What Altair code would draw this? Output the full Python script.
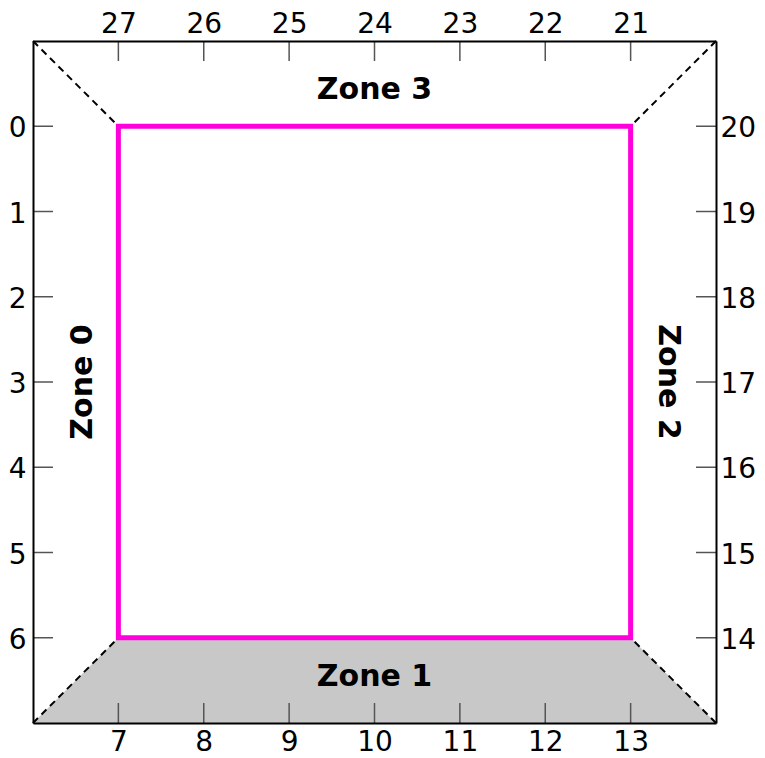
import altair as alt
import pandas as pd

# ---- data ----
bottom_ticks = [7, 8, 9, 10, 11, 12, 13]
left_ticks = [0, 1, 2, 3, 4, 5, 6]
top_ticks = [27, 26, 25, 24, 23, 22, 21]
right_ticks = [20, 19, 18, 17, 16, 15, 14]

x_domain = [6, 14]
y_domain = [-1, 7]
top_domain = [20, 28]
right_domain = [13, 21]

inner_x = [7, 13]
inner_y = [0, 6]

zone1_x = [6, 7, 13, 14]
zone1_top = [7, 6, 6, 7]
zone1_base = [7, 7, 7, 7]

dash_x = [6, 14, 6, 14]
dash_y = [-1, -1, 7, 7]
dash_x2 = [7, 13, 7, 13]
dash_y2 = [0, 0, 6, 6]

zone_labels = ["Zone 0", "Zone 1", "Zone 2", "Zone 3"]
zone_x = [6.58, 10.0, 13.44, 10.0]
zone_y = [3.0, 6.46, 3.0, -0.42]
zone_angle = [270, 0, 90, 0]

FONT = "DejaVu Sans"
MAGENTA = "#ff00dd"
GREY = "#c8c8c8"
TICK = "#555555"


def axis(orient, values, pad, offset=0):
    return alt.Axis(
        orient=orient, values=values, title=None, grid=False, ticks=False, tickSize=0,
        domainColor="black", domainWidth=2, labelFont=FONT, labelFontSize=28,
        labelColor="black", labelPadding=pad, labelOffset=offset, labelOverlap=False,
        labelBound=False, labelFlush=False, format="d", zindex=1,
    )


xs = alt.Scale(domain=x_domain, nice=False, zero=False)
ys = alt.Scale(domain=y_domain, nice=False, zero=False, reverse=True)
xa = axis("bottom", bottom_ticks, 5)
ya = axis("left", left_ticks, 7, 2.5)


def X(f):
    return alt.X(f, type="quantitative", scale=xs, axis=xa)


def Y(f):
    return alt.Y(f, type="quantitative", scale=ys, axis=ya)


zone1_df = pd.DataFrame({"x": zone1_x, "y": zone1_top, "y2": zone1_base})
area = alt.Chart(zone1_df).mark_area(color=GREY, opacity=1).encode(
    x=X("x"), y=Y("y"), y2="y2"
)

dash_df = pd.DataFrame({"x": dash_x, "y": dash_y, "x2": dash_x2, "y2": dash_y2})
dashes = alt.Chart(dash_df).mark_rule(color="black", strokeWidth=2, strokeDash=[7, 5]).encode(
    x=X("x"), y=Y("y"), x2="x2", y2="y2"
)

inner_df = pd.DataFrame({"x": [inner_x[0]], "x2": [inner_x[1]], "y": [inner_y[0]], "y2": [inner_y[1]]})
inner = alt.Chart(inner_df).mark_rect(fill="transparent", stroke=MAGENTA, strokeWidth=5).encode(
    x=X("x"), x2="x2", y=Y("y"), y2="y2"
)

n = len(bottom_ticks)
bt = alt.Chart(pd.DataFrame({"x": bottom_ticks, "y": [y_domain[1]] * n})).mark_rule(
    color=TICK, strokeWidth=1.5, y2Offset=-20).encode(x=X("x"), y=Y("y"), y2="y")
tt = alt.Chart(pd.DataFrame({"x": bottom_ticks, "y": [y_domain[0]] * n})).mark_rule(
    color=TICK, strokeWidth=1.5, y2Offset=20).encode(x=X("x"), y=Y("y"), y2="y")
lt = alt.Chart(pd.DataFrame({"y": left_ticks, "x": [x_domain[0]] * n})).mark_rule(
    color=TICK, strokeWidth=1.5, x2Offset=20).encode(y=Y("y"), x=X("x"), x2="x")
rt = alt.Chart(pd.DataFrame({"y": left_ticks, "x": [x_domain[1]] * n})).mark_rule(
    color=TICK, strokeWidth=1.5, x2Offset=-20).encode(y=Y("y"), x=X("x"), x2="x")

label_df = pd.DataFrame({"label": zone_labels, "x": zone_x, "y": zone_y, "angle": zone_angle})
texts = alt.Chart(label_df).mark_text(
    font=FONT, fontSize=30, fontWeight="bold", color="black", align="center", baseline="middle"
).encode(x=X("x"), y=Y("y"), text="label:N", angle=alt.Angle("angle:Q", scale=None))

primary = alt.layer(area, dashes, inner, bt, tt, lt, rt, texts)

sec_df = pd.DataFrame({"top": top_ticks, "right": right_ticks})
secondary = alt.Chart(sec_df).mark_point(opacity=0).encode(
    x=alt.X("top:Q", scale=alt.Scale(domain=top_domain, nice=False, zero=False, reverse=True),
            axis=axis("top", top_ticks, 3)),
    y=alt.Y("right:Q", scale=alt.Scale(domain=right_domain, nice=False, zero=False),
            axis=axis("right", right_ticks, 4, 2.5)),
)

chart = alt.layer(primary, secondary).resolve_scale(
    x="independent", y="independent"
).properties(
    width=683, height=682,
    autosize=alt.AutoSizeParams(type="none"),
    padding={"left": 25, "top": 33, "right": 41, "bottom": 35},
).configure_view(strokeWidth=0)

chart.save("out.html", embed_options={"renderer": "svg", "actions": False})
